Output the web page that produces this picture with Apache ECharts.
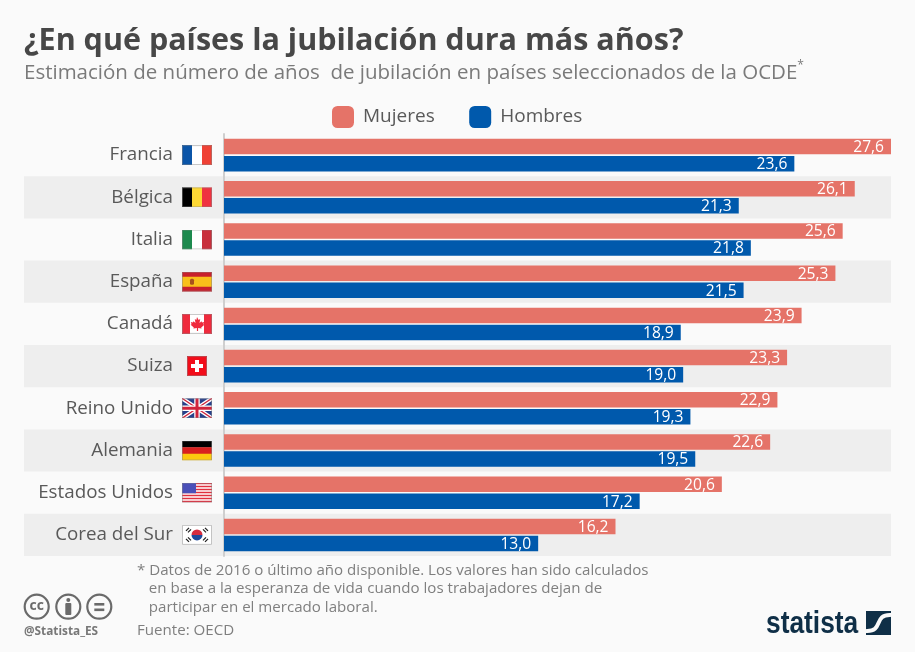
<!DOCTYPE html>
<html><head><meta charset="utf-8">
<style>html,body{margin:0;padding:0;background:#fafafa}#c{width:915px;height:652px}</style>
<script src="https://cdn.jsdelivr.net/npm/echarts@6/dist/echarts.min.js"></script>
</head><body><div id="c"></div>
<script>
const countries = ['Francia','Bélgica','Italia','España','Canadá','Suiza','Reino Unido','Alemania','Estados Unidos','Corea del Sur'];
const mujeres = [27.6,26.1,25.6,25.3,23.9,23.3,22.9,22.6,20.6,16.2];
const hombres = [23.6,21.3,21.8,21.5,18.9,19.0,19.3,19.5,17.2,13.0];
const seriesNames = ['Mujeres','Hombres'];
const titleText = '¿En qué países la jubilación dura más años?';
const subtitleText = 'Estimación de número de años  de jubilación en países seleccionados de la OCDE';
const noteLines = ['* Datos de 2016 o último año disponible. Los valores han sido calculados','   en base a la esperanza de vida cuando los trabajadores dejan de','   participar en el mercado laboral.'];
const sourceText = 'Fuente: OECD';
const FONT = '"Open Sans"';

function svg(w,h,body){return 'data:image/svg+xml;charset=utf-8,'+encodeURIComponent(
 `<svg xmlns="http://www.w3.org/2000/svg" width="${w}" height="${h}" viewBox="0 0 ${w} ${h}">${body}<rect x=".5" y=".5" width="${w-1}" height="${h-1}" fill="none" stroke="#888" stroke-opacity=".5" stroke-width="1"/></svg>`);}
function tri(a,b,c){return `<rect width="10" height="20" fill="${a}"/><rect x="10" width="10" height="20" fill="${b}"/><rect x="20" width="10" height="20" fill="${c}"/>`;}
const flagImages = {
 'Francia':svg(30,20,tri('#0b55a8','#fff','#ef4135')),
 'Bélgica':svg(30,20,tri('#000','#fdd835','#ef3340')),
 'Italia':svg(30,20,tri('#1d8a4e','#fff','#c8303c')),
 'España':svg(30,20,'<rect width="30" height="20" fill="#c8202c"/><rect y="5" width="30" height="10" fill="#f9bf1a"/><rect x="8" y="7" width="4" height="6" rx="1.5" fill="#a8501c"/>'),
 'Canadá':svg(30,20,'<rect width="30" height="20" fill="#fff"/><rect width="8" height="20" fill="#ef2b3d"/><rect x="22" width="8" height="20" fill="#ef2b3d"/><path d="M15 3l1.6 3 1.6-.8-.7 4 2-1.9.5 1.2 2.2-.4-.8 2.3 1 .5-3.2 2.6.4 1.2-3.5-.5v2.8h-1.2v-2.8l-3.5.5.4-1.2-3.2-2.6 1-.5-.8-2.3 2.2.4.5-1.2 2 1.9-.7-4 1.6.8z" fill="#ef2b3d"/>'),
 'Suiza':svg(20,20,'<rect width="20" height="20" fill="#f20d1a"/><rect x="8" y="4" width="4" height="12" fill="#fff"/><rect x="4" y="8" width="12" height="4" fill="#fff"/>'),
 'Reino Unido':svg(30,20,'<rect width="30" height="20" fill="#27408b"/><path d="M0 0L30 20M30 0L0 20" stroke="#fff" stroke-width="4"/><path d="M0 0L30 20M30 0L0 20" stroke="#d0243c" stroke-width="1.3"/><path d="M15 0V20M0 10H30" stroke="#fff" stroke-width="5.5"/><path d="M15 0V20M0 10H30" stroke="#d0243c" stroke-width="3"/>'),
 'Alemania':svg(30,20,'<rect width="30" height="7" fill="#000"/><rect y="6.7" width="30" height="6.7" fill="#d9201f"/><rect y="13.3" width="30" height="6.7" fill="#fcc80f"/>'),
 'Estados Unidos':svg(30,20,'<rect width="30" height="20" fill="#fff"/>'+[0,3,6,9,12,15,18].map(y=>`<rect y="${y}" width="30" height="1.6" fill="#e0303f"/>`).join('')+'<rect width="14" height="10.6" fill="#4a4fb8"/>'),
 'Corea del Sur':svg(30,20,'<rect width="30" height="20" fill="#fff"/><path d="M9.5 10a5.5 5.5 0 0 1 11 0z" fill="#d62b3f"/><path d="M9.5 10a5.5 5.5 0 0 0 11 0z" fill="#1f4a9c"/><g stroke="#222" stroke-width="1.3"><path d="M4 6l3-3M6 7.5l3-3M21 4.5l3 3M23 3l3 3M4 14l3 3M6 12.5l3 3M21 15.5l3-3M23 17l3-3"/></g>')
};
const rich = {name:{fontFamily:FONT,fontSize:18.8,color:'#595959',padding:[0,9,0,0]}};
countries.forEach((c,i)=>{const w=c==='Suiza'?20:30;
 rich['f'+i]={width:w,height:20,backgroundColor:{image:flagImages[c]}};});
rich.sp={width:5};

function ring(cx,cy,extra){return [{type:'circle',shape:{cx,cy,r:12},style:{fill:'transparent',stroke:'#6a6a6a',lineWidth:2.2}}].concat(extra);}
const g=echarts.init(document.getElementById('c'),null,{renderer:'canvas'});
const valueLabel={show:true,position:'insideRight',distance:7,offset:[0,1],color:'#fff',fontFamily:FONT,fontSize:15.6,formatter:p=>p.value.toFixed(1).replace('.',',')};
g.setOption({
 backgroundColor:'#fafafa',animation:false,
 title:[
  {text:titleText,left:24,top:21,padding:0,textStyle:{fontFamily:FONT,fontWeight:'bold',fontSize:30.5,color:'#474747',lineHeight:40}},
  {text:'{a|'+subtitleText+'}{s|*}',left:24,top:60,padding:0,textStyle:{fontWeight:'normal',rich:{a:{fontFamily:FONT,fontWeight:'normal',fontSize:20.5,color:'#7a7a7a',lineHeight:26},s:{fontFamily:FONT,fontWeight:'normal',fontSize:12,color:'#7a7a7a',verticalAlign:'top',lineHeight:26}}}},
  {text:noteLines.join('\n'),left:137,top:561,padding:0,textStyle:{fontFamily:FONT,fontSize:15.1,fontWeight:'normal',color:'#7f7f7f',lineHeight:18.6}},
  {text:sourceText,left:137,top:622,padding:0,textStyle:{fontFamily:FONT,fontSize:15.1,fontWeight:'normal',color:'#7f7f7f',lineHeight:18}},
  {text:'@Statista_ES',left:24,top:625,padding:0,textStyle:{fontFamily:FONT,fontSize:11.8,fontWeight:'bold',color:'#777',lineHeight:14}}
 ],
 legend:{data:seriesNames,left:332,top:106,padding:0,itemWidth:22,itemHeight:22,itemGap:34.5,icon:'roundRect',
  textStyle:{fontFamily:FONT,fontSize:19,color:'#595959',padding:[3,0,0,4]}},
 grid:[
  {left:224,top:134,width:667,height:422},
  {left:24,top:134,width:200,height:422}
 ],
 xAxis:[
  {gridIndex:0,type:'value',min:0,max:27.6,show:false},
  {gridIndex:1,type:'value',min:0,max:1,show:false}
 ],
 yAxis:[
  {gridIndex:0,type:'category',inverse:true,data:countries,position:'left',
   axisLine:{show:true,lineStyle:{color:'#cfcfcf',width:2}},axisTick:{show:false},axisLabel:{show:false},
   splitArea:{show:true,areaStyle:{color:['rgba(0,0,0,0)','#eeeeee']}}},
  {gridIndex:1,type:'category',inverse:true,data:countries,position:'right',
   axisLine:{show:false},axisTick:{show:false},
   axisLabel:{inside:true,margin:12,align:'right',
    formatter:v=>'{name|'+v+'}'+(v==='Suiza'?'{sp|}':'')+'{f'+countries.indexOf(v)+'|}'+(v==='Suiza'?'{sp|}':''),rich},
   splitArea:{show:true,areaStyle:{color:['rgba(0,0,0,0)','#eeeeee']}}}
 ],
 series:[
  {name:seriesNames[0],type:'bar',xAxisIndex:0,yAxisIndex:0,data:mujeres,barWidth:15.5,barGap:'10%',itemStyle:{color:'#e57368'},label:valueLabel},
  {name:seriesNames[1],type:'bar',xAxisIndex:0,yAxisIndex:0,data:hombres,barWidth:15.5,itemStyle:{color:'#0059ac'},label:valueLabel}
 ],
 graphic:[
  ...ring(36.7,606.7,[{type:'text',style:{text:'cc',x:36.7,y:606,align:'center',verticalAlign:'middle',fontFamily:FONT,fontWeight:'bold',fontSize:14,fill:'#6a6a6a'}}]),
  ...ring(68.3,606.7,[{type:'circle',shape:{cx:68.3,cy:600,r:2},style:{fill:'#6a6a6a'}},{type:'rect',shape:{x:65.3,y:603,width:6,height:12,r:1},style:{fill:'#6a6a6a'}}]),
  ...ring(99.3,606.7,[{type:'rect',shape:{x:94.3,y:603,width:10,height:2.6},style:{fill:'#6a6a6a'}},{type:'rect',shape:{x:94.3,y:608.5,width:10,height:2.6},style:{fill:'#6a6a6a'}}]),
  {type:'text',x:766,y:624,scaleX:0.85,style:{text:'statista',x:0,y:0,verticalAlign:'middle',fontFamily:'"Liberation Sans"',fontWeight:'bold',fontSize:31,fill:'#0f2f47'}},
  {type:'rect',shape:{x:866,y:611,width:25,height:24},style:{fill:'#0f2f47'}},
  {type:'bezierCurve',shape:{x1:866,y1:631,cpx1:884,cpy1:632,cpx2:873,cpy2:614,x2:891,y2:615},style:{fill:'none',stroke:'#fafafa',lineWidth:4}}
 ]
});
</script></body></html>
